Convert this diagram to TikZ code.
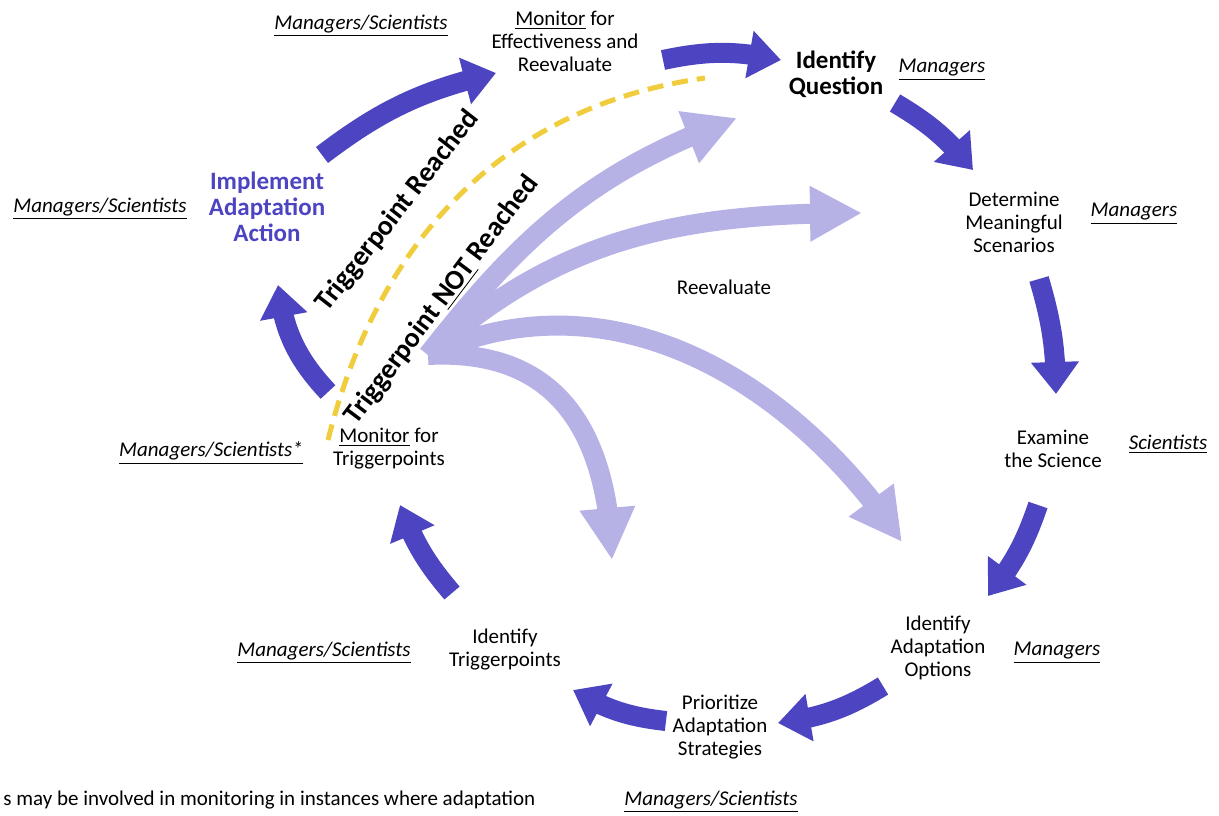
\documentclass[tikz,border=0pt]{standalone}
\usepackage{fontspec}
\setmainfont{Carlito}
\usetikzlibrary{arrows.meta,bending}

\definecolor{cycleblue}{RGB}{76,68,192}
\definecolor{reevalblue}{RGB}{182,178,230}
\definecolor{triggergold}{RGB}{240,205,60}

\begin{document}
\begin{tikzpicture}[
  x=0.5pt, y=0.5pt,
  every node/.style={align=center, inner sep=1pt, font=\fontsize{10.5}{11.5}\selectfont},
  role/.style={font=\fontsize{10.5}{11.5}\selectfont\itshape},
  keystage/.style={font=\fontsize{12.5}{13}\selectfont\bfseries},
  triggerlabel/.style={font=\fontsize{14}{15}\selectfont\bfseries},
  cyclearrow/.style={draw=cycleblue, line width=10pt, -{Triangle[width=23pt,length=16pt]}},
  reevalarrow/.style={draw=reevalblue, line width=10pt, -{Triangle[width=26pt,length=26pt]}},
  triggerline/.style={draw=triggergold, line width=2.5pt, dash pattern=on 8pt off 4.5pt}
]
  \useasboundingbox (0,0) rectangle (1219,-815);

  % reevaluate arrows out of the hub
  \coordinate (hub) at (428,-355);
  \coordinate (back-question) at (737,-118);
  \coordinate (back-scenarios) at (862,-213);
  \coordinate (back-options) at (902,-542);
  \coordinate (back-triggers) at (612,-560);
  \draw[reevalarrow] (hub) to[out=52,in=200] (back-question);
  \draw[reevalarrow] (hub) to[out=42,in=180] (back-scenarios);
  \draw[reevalarrow] (hub) to[out=25,in=124] (back-options);
  \draw[reevalarrow] (hub) to[out=3,in=92,looseness=1.2] (back-triggers);

  % stages
  \node (moneff) at (565,-41) {\underline{Monitor} for\\Effectiveness and\\Reevaluate};
  \node[role] (moneffrole) at (361,-26) {\underline{Managers/Scientists}};
  \node[keystage] (question) at (836,-74) {Identify\\Question};
  \node[role] (questionrole) at (942,-70) {\underline{Managers}};
  \node (scenarios) at (1014,-222) {Determine\\Meaningful\\Scenarios};
  \node[role] (scenariosrole) at (1134,-214) {\underline{Managers}};
  \node (science) at (1053,-449) {Examine\\the Science};
  \node[role] (sciencerole) at (1168,-444) {\underline{Scientists}};
  \node (options) at (938,-648) {Identify\\Adaptation\\Options};
  \node[role] (optionsrole) at (1057,-653) {\underline{Managers}};
  \node (strategies) at (720,-727) {Prioritize\\Adaptation\\Strategies};
  \node[role] (strategiesrole) at (711,-802) {\underline{Managers/Scientists}};
  \node (triggers) at (505,-649) {Identify\\Triggerpoints};
  \node[role] (triggersrole) at (324,-653) {\underline{Managers/Scientists}};
  \node (montrig) at (389,-449) {\underline{Monitor} for\\Triggerpoints};
  \node[role] (montrigrole) at (211,-453) {\underline{Managers/Scientists*}};
  \node[keystage, text=cycleblue] (implement) at (267,-207) {Implement\\Adaptation\\Action};
  \node[role] (implementrole) at (100,-209) {\underline{Managers/Scientists}};
  \node (reeval) at (724,-287) {Reevaluate};
  \node[anchor=west] (footnote) at (1,-800) {s may be involved in monitoring in instances where adaptation};

  \node[triggerlabel, rotate=52] (reached) at (398,-211) {Triggerpoint Reached};
  \node[triggerlabel, rotate=53] (notreached) at (442,-300) {Triggerpoint \underline{NOT} Reached};

  % triggerpoint reached shortcut
  \coordinate (trig-start) at (328,-440);
  \coordinate (trig-end) at (705,-78);
  \draw[triggerline] (trig-start) to[out=76,in=188] (trig-end);

  % main cycle
  \coordinate (implement-out) at (322,-155);
  \coordinate (moneff-in) at (496,-73);
  \coordinate (moneff-out) at (663,-60);
  \coordinate (question-in) at (781,-60);
  \coordinate (question-out) at (895,-103);
  \coordinate (scenarios-in) at (973,-170);
  \coordinate (scenarios-out) at (1039,-279);
  \coordinate (science-in) at (1056,-394);
  \coordinate (science-out) at (1038,-505);
  \coordinate (options-in) at (988,-596);
  \coordinate (options-out) at (883,-686);
  \coordinate (strategies-in) at (778,-723);
  \coordinate (strategies-out) at (666,-721);
  \coordinate (triggers-in) at (573,-690);
  \coordinate (triggers-out) at (452,-593);
  \coordinate (montrig-in) at (400,-505);
  \coordinate (montrig-out) at (328,-392);
  \coordinate (implement-in) at (278,-285);

  \draw[cyclearrow] (implement-out) to[bend left=12] (moneff-in);
  \draw[cyclearrow] (moneff-out) to[bend left=12] (question-in);
  \draw[cyclearrow] (question-out) to[bend left=10] (scenarios-in);
  \draw[cyclearrow] (scenarios-out) to[bend left=8] (science-in);
  \draw[cyclearrow] (science-out) to[bend left=10] (options-in);
  \draw[cyclearrow] (options-out) to[bend left=12] (strategies-in);
  \draw[cyclearrow] (strategies-out) to[bend left=12] (triggers-in);
  \draw[cyclearrow] (triggers-out) to[bend left=10] (montrig-in);
  \draw[cyclearrow] (montrig-out) to[bend left=18] (implement-in);
\end{tikzpicture}
\end{document}
